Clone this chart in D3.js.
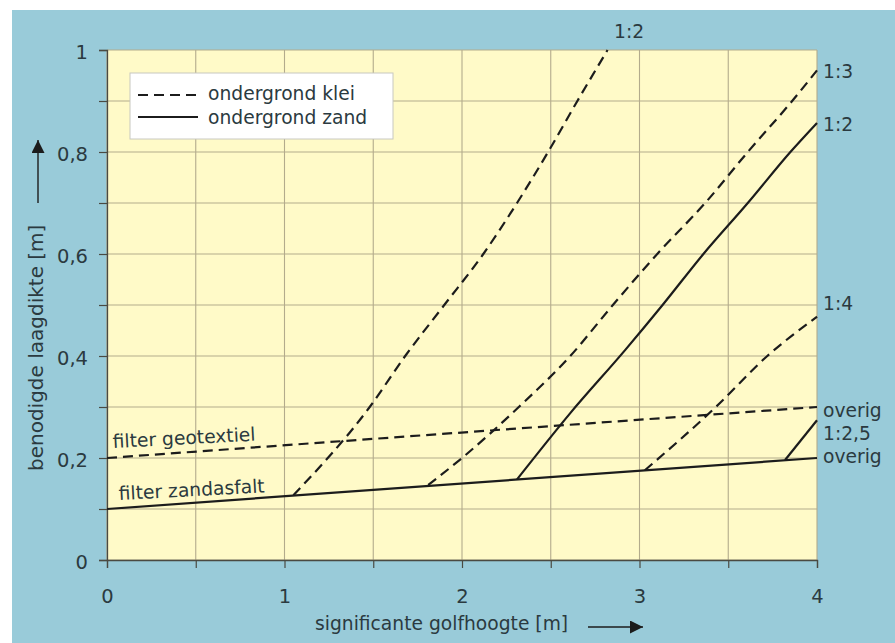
<!DOCTYPE html>
<html><head><meta charset="utf-8">
<script src="https://cdn.jsdelivr.net/npm/d3@7"></script>
<style>
html,body{margin:0;padding:0;background:#fff;}
svg text{font-family:"DejaVu Sans",sans-serif;fill:#2b3a40;}
</style></head>
<body>
<svg id="c" width="895" height="643"></svg>
<script>
// ---- data ----
const xTickValues = [0, 1, 2, 3, 4];
const yTickValues = [0, 0.2, 0.4, 0.6, 0.8, 1];
const yTickLabels = ["0", "0,2", "0,4", "0,6", "0,8", "1"];
const xGridValues = [0, 0.5, 1, 1.5, 2, 2.5, 3, 3.5, 4];
const yGridValues = [0, 0.1, 0.2, 0.3, 0.4, 0.5, 0.6, 0.7, 0.8, 0.9, 1];

const geotextielX = [0, 4];
const geotextielY = [0.2, 0.3];
const zandasfaltX = [0, 4];
const zandasfaltY = [0.1, 0.2];
const klei12X = [1.05, 1.48, 1.68, 1.90, 2.12, 2.31, 2.485, 2.65, 2.82];
const klei12Y = [0.127, 0.3, 0.4, 0.5, 0.6, 0.7, 0.8, 0.9, 1.0];
const klei13X = [1.81, 2.0, 2.32, 2.61, 2.85, 3.10, 3.37, 3.61, 3.86, 4.0];
const klei13Y = [0.147, 0.2, 0.3, 0.4, 0.5, 0.6, 0.7, 0.8, 0.9, 0.96];
const zand12X = [2.31, 2.61, 2.92, 3.13, 3.36, 3.61, 3.85, 4.0];
const zand12Y = [0.158, 0.288, 0.412, 0.5, 0.6, 0.7, 0.8, 0.857];
const klei14X = [3.03, 3.43, 3.72, 4.0];
const klei14Y = [0.176, 0.3, 0.4, 0.477];
const zand125X = [3.82, 4.0];
const zand125Y = [0.196, 0.274];

const rightLabels = ["1:3", "1:2", "1:4", "overig", "1:2,5", "overig"];
const legendLabels = ["ondergrond klei", "ondergrond zand"];
const xTitle = "significante golfhoogte [m]";
const yTitle = "benodigde laagdikte [m]";

// ---- layout ----
const svg = d3.select("#c");
const L = 107, R = 817, T = 50, B = 560;
const x = d3.scaleLinear().domain([0, 4]).range([L, R]);
const y = d3.scaleLinear().domain([0, 1]).range([B, T]);
const ink = "#1c1c1c";
const fs = 18.7;

svg.append("rect").attr("x", 12).attr("y", 10).attr("width", 883).attr("height", 633).attr("fill", "#99cbd9");
svg.append("rect").attr("x", L).attr("y", T).attr("width", R - L).attr("height", B - T).attr("fill", "#fffac8");

// grid
const grid = svg.append("g").attr("stroke", "#b3ab8c").attr("stroke-width", 1.1);
grid.selectAll(".gx").data(xGridValues).join("line")
  .attr("x1", d => x(d)).attr("x2", d => x(d)).attr("y1", T).attr("y2", B);
grid.selectAll(".gy").data(yGridValues).join("line")
  .attr("x1", L).attr("x2", R).attr("y1", d => y(d)).attr("y2", d => y(d));

// axes
const yAxis = d3.axisLeft(y).tickValues(yGridValues).tickSize(8).tickPadding(11)
  .tickFormat(d => { const i = yTickValues.findIndex(v => Math.abs(v - d) < 1e-9); return i >= 0 ? yTickLabels[i] : ""; });
const gy = svg.append("g").attr("transform", `translate(${L},0)`).call(yAxis);
const xAxis = d3.axisBottom(x).tickValues(xGridValues).tickSize(8).tickPadding(21)
  .tickFormat(d => xTickValues.includes(d) ? String(d) : "");
const gx = svg.append("g").attr("transform", `translate(0,${B})`).call(xAxis);
[gx, gy].forEach(g => {
  g.select(".domain").attr("stroke", "#4a4a42").attr("stroke-width", 1.3);
  g.selectAll(".tick line").attr("stroke", "#4a4a42").attr("stroke-width", 1.2);
  g.selectAll("text").attr("font-size", 19.5).attr("fill", "#2b3a40").attr("font-family", "DejaVu Sans, sans-serif");
});
gx.selectAll("text").attr("dy", "0.71em");
gy.selectAll("text").attr("dy", "0.45em");

// series lines
const line = d3.line().x(d => x(d[0])).y(d => y(d[1])).curve(d3.curveMonotoneX);
const series = [
  [geotextielX, geotextielY, true],
  [zandasfaltX, zandasfaltY, false],
  [klei12X, klei12Y, true],
  [klei13X, klei13Y, true],
  [zand12X, zand12Y, false],
  [klei14X, klei14Y, true],
  [zand125X, zand125Y, false]
];
series.forEach(([xs, ys, dashed]) => {
  svg.append("path").datum(d3.zip(xs, ys)).attr("d", line)
    .attr("fill", "none").attr("stroke", ink).attr("stroke-width", 2.2)
    .attr("stroke-dasharray", dashed ? "10,6" : null);
});

// line labels
svg.append("text").attr("x", 614).attr("y", 38).attr("font-size", fs).text("1:2");
const rightY = [y(0.96) + 8, y(0.857) + 8, y(0.477) - 7, 417, 440, 463];
rightLabels.forEach((t, i) => {
  svg.append("text").attr("x", 823).attr("y", rightY[i]).attr("font-size", fs).text(t);
});

svg.append("text").attr("font-size", fs).attr("transform", `translate(113,448) rotate(-3)`).text("filter geotextiel");
svg.append("text").attr("font-size", fs).attr("transform", `translate(119,500) rotate(-3)`).text("filter zandasfalt");

// legend
const lg = svg.append("g");
lg.append("rect").attr("x", 130).attr("y", 73).attr("width", 263).attr("height", 66)
  .attr("fill", "#fff").attr("stroke", "#c8c8c0").attr("stroke-width", 1);
lg.append("line").attr("x1", 138).attr("x2", 199).attr("y1", 95).attr("y2", 95)
  .attr("stroke", ink).attr("stroke-width", 2.2).attr("stroke-dasharray", "10,6");
lg.append("line").attr("x1", 138).attr("x2", 198).attr("y1", 117).attr("y2", 117)
  .attr("stroke", ink).attr("stroke-width", 2.2);
legendLabels.forEach((t, i) => {
  lg.append("text").attr("x", 208).attr("y", 100 + i * 24).attr("font-size", fs).text(t);
});

// axis titles + arrows
svg.append("defs").append("marker").attr("id", "ah").attr("viewBox", "0 0 10 10")
  .attr("refX", 10).attr("refY", 5).attr("markerWidth", 13).attr("markerHeight", 13)
  .attr("markerUnits", "userSpaceOnUse").attr("orient", "auto")
  .append("path").attr("d", "M0,0 L10,5 L0,10 Z").attr("fill", ink);

svg.append("text").attr("x", 315).attr("y", 630).attr("font-size", fs).text(xTitle);
svg.append("line").attr("x1", 588).attr("x2", 643).attr("y1", 627).attr("y2", 627)
  .attr("stroke", ink).attr("stroke-width", 1.4).attr("marker-end", "url(#ah)");

svg.append("text").attr("font-size", 20).attr("text-anchor", "start")
  .attr("transform", `translate(43,471) rotate(-90)`).text(yTitle);
svg.append("line").attr("x1", 38).attr("x2", 38).attr("y1", 203).attr("y2", 140)
  .attr("stroke", ink).attr("stroke-width", 1.4).attr("marker-end", "url(#ah)");
</script>
</body></html>
